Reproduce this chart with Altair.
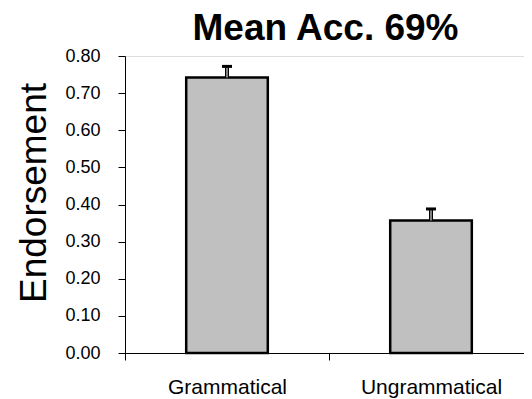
import altair as alt
import pandas as pd

title_text = ["Mean Acc. 69%"]
categories = ["Grammatical", "Ungrammatical"]
means = [0.742, 0.357]
uppers = [0.772, 0.388]
y_ticks = [0.0, 0.1, 0.2, 0.3, 0.4, 0.5, 0.6, 0.7, 0.8]

df = pd.DataFrame({"cat": categories, "mean": means, "upper": uppers})
title_df = pd.DataFrame({"t": title_text})

FONT = "Liberation Sans"

x_scale = alt.Scale(paddingInner=0, paddingOuter=0, range=[0, 408])
y_scale = alt.Scale(domain=[0, 0.8], nice=False, zero=True)

x_axis = alt.Axis(
    title=None,
    labelAngle=0,
    labelFontSize=21,
    labelFont=FONT,
    labelColor="black",
    tickBand="extent",
    tickSize=7,
    tickColor="black",
    labelPadding=16,
    domainColor="black",
    grid=False,
)

y_axis = alt.Axis(
    title="Endorsement",
    values=y_ticks,
    format=".2f",
    labelOverlap=False,
    labelFontSize=18,
    labelFont=FONT,
    labelColor="black",
    tickSize=7,
    tickColor="black",
    labelPadding=18,
    domainColor="black",
    grid=False,
    titleFont=FONT,
    titleFontSize=37,
    titleFontWeight="normal",
    titleColor="black",
    titleX=-80,
    titleY=136.5,
    titleAlign="center",
    titleBaseline="alphabetic",
    titleAngle=270,
)

x_enc = alt.X("cat:N", sort=categories, scale=x_scale, axis=x_axis)
y_mean = alt.Y("mean:Q", scale=y_scale, axis=y_axis)
y_upper = alt.Y("upper:Q", scale=y_scale, axis=y_axis)

base = alt.Chart(df)

bars = base.mark_bar(
    color="#C0C0C0", stroke="black", strokeWidth=2.5, width=alt.RelativeBandSize(0.4)
).encode(x=x_enc, y=y_mean)

stem_dark = base.mark_rule(color="black", strokeWidth=4).encode(
    x=x_enc, y=y_mean, y2="upper:Q"
)
stem_light = base.mark_rule(color="#808080", strokeWidth=2).encode(
    x=x_enc, y=y_mean, y2="upper:Q"
)
cap = base.mark_tick(color="black", size=10, thickness=3, opacity=1).encode(
    x=x_enc, y=y_upper
)

title_mark = alt.Chart(title_df).mark_text(
    font=FONT, fontSize=37, fontWeight="bold", color="black",
    align="center", baseline="alphabetic",
).encode(text="t:N", x=alt.value(200.5), y=alt.value(-16))

chart = (
    alt.layer(bars, stem_dark, stem_light, cap, title_mark)
    .properties(
        width=399,
        height=297,
        autosize=alt.AutoSizeParams(type="none"),
        padding={"left": 117, "top": 48, "right": 0, "bottom": 46},
    )
    .configure_view(stroke="transparent", strokeWidth=0)
    .configure(background="white")
)

chart.save("out.html", embed_options={"renderer": "svg", "actions": False})
